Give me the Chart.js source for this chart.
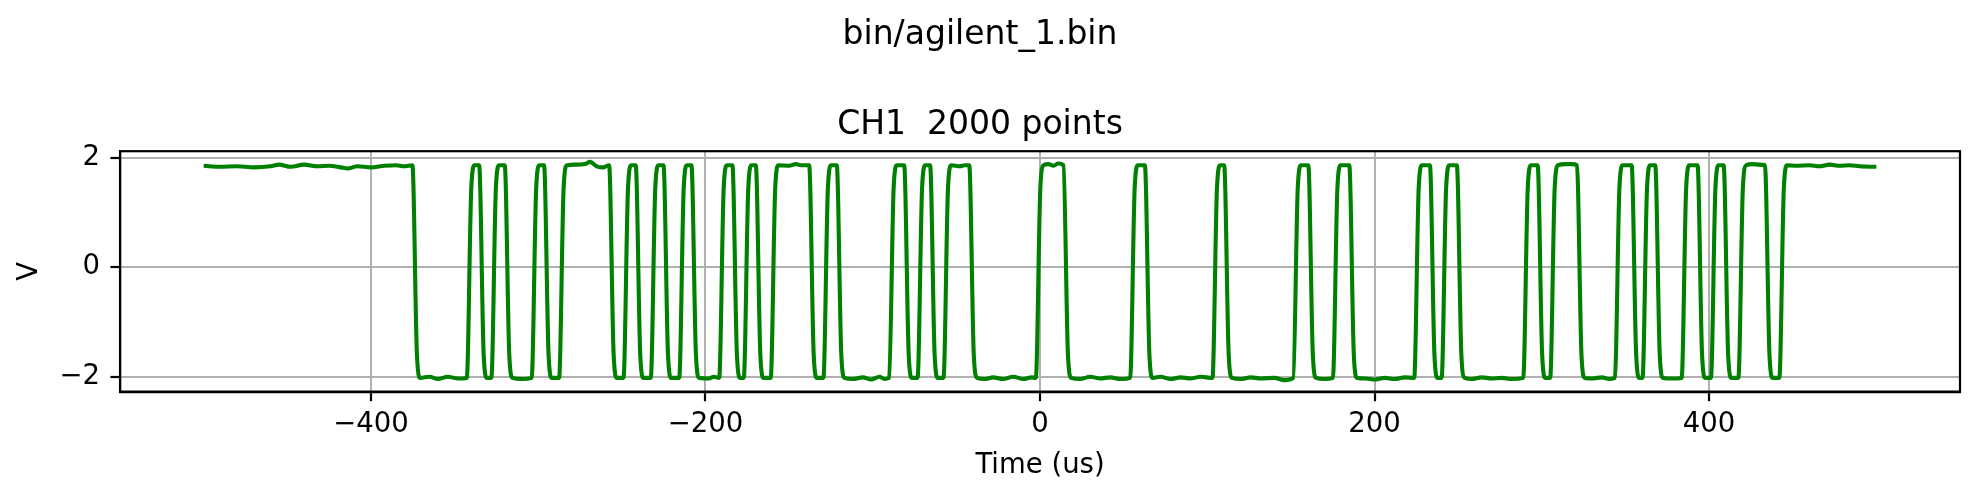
<!DOCTYPE html>
<html>
<head>
<meta charset="utf-8">
<title>bin/agilent_1.bin</title>
<script src="https://cdn.jsdelivr.net/npm/chart.js@4.4.1/dist/chart.umd.min.js"></script>
<style>
  html, body { margin: 0; padding: 0; background: #fff; }
  canvas { display: block; }
</style>
</head>
<body>
<canvas id="scope" width="1979" height="500"></canvas>
<script>
// CH1 trace, key points (time in us, level in V)
const timeUs = [
  -500, -490, -480, -470, -460, -455, -448, -440, -432, -425, -418, -414, -408, -400, -392, -385, -380,
  -375.2, -372.5, -370.5, -365, -360, -354, -348,
  -342.7, -340.0, -338.0, -335.3, -332.6, -330.6,
  -328.0, -325.3, -323.3, -320.0, -317.3, -315.3, -310,
  -303.9, -301.2, -299.2, -296.5, -293.8, -291.8,
  -287.5, -284.8, -282.8, -278, -272, -269, -265, -261,
  -257.6, -254.9, -252.9, -249.0, -246.3, -244.3,
  -241.7, -239.0, -237.0, -232.7, -230.0, -228.0,
  -225.1, -222.4, -220.4, -215.7, -213.0, -211.0,
  -208.4, -205.7, -203.7, -198, -195,
  -191.8, -189.1, -187.1, -183.9, -181.2, -179.2,
  -177.1, -174.4, -172.4, -169.9, -167.2, -165.2,
  -161.0, -158.3, -156.3, -150, -146, -143,
  -138.0, -135.3, -133.3, -129.5, -126.8, -124.8,
  -121.5, -118.8, -116.8, -112, -106, -101, -96, -93,
  -90.2, -87.5, -85.5, -81.2, -78.5, -76.5,
  -73.2, -70.5, -68.5, -65.7, -63.0, -61.0,
  -57.7, -55.0, -53.0, -48, -45,
  -42.3, -39.6, -37.6, -33, -28, -22, -16, -10, -5,
  -2.5, 0.2, 2.2, 5, 8, 11,
  14.0, 16.7, 18.7, 24, 30, 36, 42, 48,
  53.9, 56.6, 58.6, 62.7, 65.4, 67.4,
  72, 78, 84, 90, 96,
  103.1, 105.8, 107.8, 110.1, 112.8, 114.8,
  120, 126, 132, 140, 146,
  151.4, 154.1, 156.1, 160.4, 163.1, 165.1, 170,
  175.1, 177.8, 179.8, 184.9, 187.6, 189.6,
  195, 200, 206, 212, 218,
  223.7, 226.4, 228.4, 233.1, 235.8, 237.8,
  240.1, 242.8, 244.8, 249.2, 251.9, 253.9,
  258, 264, 270, 276, 282,
  288.9, 291.6, 293.6, 297.5, 300.2, 302.2,
  305.0, 307.7, 309.7, 314, 318,
  321.0, 323.7, 325.7, 330, 336, 340,
  343.7, 346.4, 348.4, 353.7, 356.4, 358.4,
  360.2, 362.9, 364.9, 367.8, 370.5, 372.5, 378,
  383.6, 386.3, 388.3, 393.1, 395.8, 397.8,
  401.1, 403.8, 405.8, 408.7, 411.4, 413.4,
  417.5, 420.2, 422.2, 426, 430,
  433.4, 436.1, 438.1, 442.0, 444.7, 446.7,
  452, 460, 466, 472, 478, 484, 490, 500
];

const volts = [
  1.85, 1.83, 1.84, 1.82, 1.84, 1.87, 1.83, 1.87, 1.84, 1.85, 1.82, 1.80, 1.84, 1.82, 1.85, 1.86, 1.84,
  1.86, -1.6, -2.02, -2.0, -2.04, -2.0, -2.03,
  -2.02, 1.45, 1.86, 1.86, -1.6, -2.02,
  -2.02, 1.45, 1.86, 1.86, -1.6, -2.02, -2.04,
  -2.02, 1.45, 1.86, 1.86, -1.6, -2.02,
  -2.02, 1.45, 1.86, 1.87, 1.88, 1.92, 1.84, 1.82,
  1.86, -1.6, -2.02, -2.02, 1.45, 1.86,
  1.86, -1.6, -2.02, -2.02, 1.45, 1.86,
  1.86, -1.6, -2.02, -2.02, 1.45, 1.86,
  1.86, -1.6, -2.02, -2.03, -2.0,
  -2.02, 1.45, 1.86, 1.86, -1.6, -2.02,
  -2.02, 1.45, 1.86, 1.86, -1.6, -2.02,
  -2.02, 1.45, 1.86, 1.85, 1.88, 1.86,
  1.86, -1.6, -2.02, -2.02, 1.45, 1.86,
  1.86, -1.6, -2.02, -2.04, -2.01, -2.05, -2.0, -2.04,
  -2.02, 1.45, 1.86, 1.86, -1.6, -2.02,
  -2.02, 1.45, 1.86, 1.86, -1.6, -2.02,
  -2.02, 1.45, 1.86, 1.84, 1.86,
  1.86, -1.6, -2.02, -2.04, -2.01, -2.04, -2.0, -2.04, -2.01,
  -2.02, 1.45, 1.86, 1.88, 1.85, 1.89,
  1.86, -1.6, -2.02, -2.04, -2.0, -2.03, -2.01, -2.04,
  -2.02, 1.45, 1.86, 1.86, -1.6, -2.02,
  -2.0, -2.04, -2.01, -2.03, -2.0,
  -2.02, 1.45, 1.86, 1.86, -1.6, -2.02,
  -2.04, -2.01, -2.03, -2.02, -2.06,
  -2.02, 1.45, 1.86, 1.86, -1.6, -2.02, -2.04,
  -2.02, 1.45, 1.86, 1.86, -1.6, -2.02,
  -2.03, -2.05, -2.02, -2.04, -2.01,
  -2.02, 1.45, 1.86, 1.86, -1.6, -2.02,
  -2.02, 1.45, 1.86, 1.86, -1.6, -2.02,
  -2.04, -2.01, -2.03, -2.02, -2.04,
  -2.02, 1.45, 1.86, 1.86, -1.6, -2.02,
  -2.02, 1.45, 1.86, 1.88, 1.88,
  1.86, -1.6, -2.02, -2.03, -2.01, -2.04,
  -2.02, 1.45, 1.86, 1.86, -1.6, -2.02,
  -2.02, 1.45, 1.86, 1.86, -1.6, -2.02, -2.03,
  -2.02, 1.45, 1.86, 1.86, -1.6, -2.02,
  -2.02, 1.45, 1.86, 1.86, -1.6, -2.02,
  -2.02, 1.45, 1.86, 1.88, 1.87,
  1.86, -1.6, -2.02, -2.02, 1.45, 1.86,
  1.85, 1.86, 1.84, 1.87, 1.85, 1.86, 1.84, 1.83
];

const xTicks = [-400, -200, 0, 200, 400];
const yTicks = [-2, 0, 2];

const FONT = 'DejaVu Sans';
const minus = v => String(v).replace('-', '\u2212');

// matplotlib draws a full box round the axes
const frame = {
  id: 'frame',
  afterDatasetsDraw(chart) {
    const { ctx, chartArea: a } = chart;
    ctx.save();
    ctx.strokeStyle = '#000';
    ctx.lineWidth = 2.2;
    ctx.strokeRect(a.left, a.top, a.right - a.left, a.bottom - a.top);
    ctx.restore();
  }
};

Chart.defaults.color = '#000';
Chart.defaults.font.family = FONT;

new Chart(document.getElementById('scope'), {
  type: 'line',
  data: {
    datasets: [{
      data: timeUs.map((t, i) => ({ x: t, y: volts[i] })),
      borderColor: '#008000',
      borderWidth: 4.1,
      borderJoinStyle: 'round',
      pointRadius: 0,
      cubicInterpolationMode: 'monotone',
      fill: false
    }]
  },
  options: {
    responsive: false,
    devicePixelRatio: 1,
    animation: false,
    events: [],
    layout: { padding: { left: 0, right: 19, top: 0, bottom: 0 } },
    plugins: {
      legend: { display: false },
      tooltip: { enabled: false },
      title: {
        display: true,
        text: 'bin/agilent_1.bin',
        font: { size: 33, weight: 'normal' },
        padding: { top: 16, bottom: 0 }
      },
      subtitle: {
        display: true,
        text: 'CH1  2000 points',
        color: '#000',
        font: { size: 33, weight: 'normal' },
        padding: { top: 50, bottom: 6 }
      }
    },
    scales: {
      x: {
        type: 'linear',
        min: -550,
        max: 550,
        afterBuildTicks: axis => { axis.ticks = xTicks.map(v => ({ value: v })); },
        ticks: { font: { size: 27.5 }, padding: 7.4, maxRotation: 0, callback: minus },
        grid: { color: '#b0b0b0', lineWidth: 2, tickColor: '#000', tickWidth: 2.2, tickLength: 9.6 },
        border: { color: '#000', width: 2.2 },
        title: { display: true, text: 'Time (us)', font: { size: 27.5 }, padding: { top: 0, bottom: 18 } }
      },
      y: {
        min: -2.27,
        max: 2.115,
        afterBuildTicks: axis => { axis.ticks = yTicks.map(v => ({ value: v })); },
        ticks: { font: { size: 27.5 }, padding: 10.5, callback: minus },
        grid: { color: '#b0b0b0', lineWidth: 2, tickColor: '#000', tickWidth: 2.2, tickLength: 9.6 },
        border: { color: '#000', width: 2.2 },
        title: { display: true, text: 'V', font: { size: 27.5 }, padding: { top: 13.5, bottom: 2.4 } }
      }
    }
  },
  plugins: [frame]
});
</script>
</body>
</html>
